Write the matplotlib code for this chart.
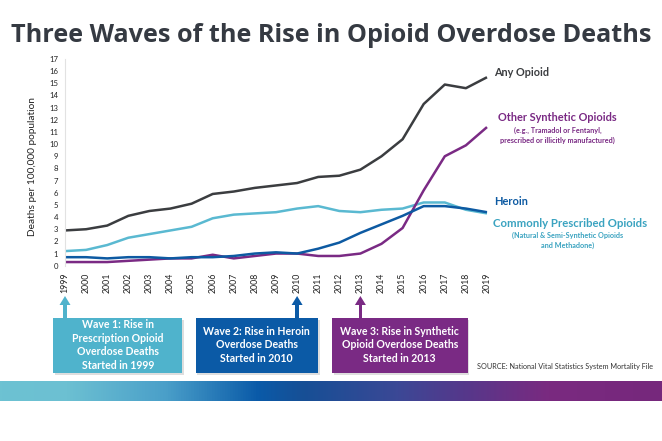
import numpy as np
import matplotlib
matplotlib.use("Agg")
import matplotlib.pyplot as plt
from matplotlib.colors import LinearSegmentedColormap
from matplotlib.patches import Rectangle

years = list(range(1999, 2020))
any_opioid = [2.9, 3.0, 3.3, 4.1, 4.5, 4.7, 5.1, 5.9, 6.1, 6.4, 6.6, 6.8, 7.3, 7.4, 7.9, 9.0, 10.4, 13.3, 14.9, 14.6, 15.5]
prescribed = [1.2, 1.3, 1.7, 2.3, 2.6, 2.9, 3.2, 3.9, 4.2, 4.3, 4.4, 4.7, 4.9, 4.5, 4.4, 4.6, 4.7, 5.2, 5.2, 4.6, 4.3]
heroin = [0.7, 0.7, 0.6, 0.7, 0.7, 0.6, 0.7, 0.7, 0.8, 1.0, 1.1, 1.0, 1.4, 1.9, 2.7, 3.4, 4.1, 4.9, 4.9, 4.7, 4.4]
synthetic = [0.3, 0.3, 0.3, 0.4, 0.5, 0.6, 0.6, 0.9, 0.6, 0.8, 1.0, 1.0, 0.8, 0.8, 1.0, 1.8, 3.1, 6.2, 9.0, 9.9, 11.4]
yticks = list(range(0, 18))
wave_years = [1999, 2010, 2013]
wave_texts = ["Wave 1: Rise in\nPrescription Opioid\nOverdose Deaths\nStarted in 1999",
              "Wave 2: Rise in Heroin\nOverdose Deaths\nStarted in 2010",
              "Wave 3: Rise in Synthetic\nOpioid Overdose Deaths\nStarted in 2013"]

C_ANY = "#3b3d40"
C_PRES = "#5ab9d1"
C_PRES_T = "#3aa3c0"
C_HER = "#0d5aa2"
C_SYN = "#7a2a84"
wave_colors = ["#4fb3cc", "#0b5aa6", "#7a2a84"]

W, H = 662, 441
plt.rcParams['font.family'] = ['Lato', 'DejaVu Sans']

fig = plt.figure(figsize=(W / 100, H / 100), dpi=100)
fig.patch.set_facecolor("white")

def fx(x):
    return x / W

def fy(y):
    return 1 - y / H

# title
fig.text(fx(331), fy(36), "Three Waves of the Rise in Opioid Overdose Deaths",
         ha="center", va="center", fontsize=18.2, fontweight="bold", color="#353a42",
         family=["Open Sans", "DejaVu Sans"])

# main axes
x0, x1 = 65, 487
y0, y1 = 265.7, 59
ax = fig.add_axes([fx(x0), fy(y0), fx(x1 - x0), (y0 - y1) / H])
ax.set_xlim(1999, 2019)
ax.set_ylim(0, 17)
for s in ["top", "right", "bottom"]:
    ax.spines[s].set_visible(False)
ax.spines["left"].set_color("#e2e2e2")
ax.spines["left"].set_linewidth(0.8)
ax.set_yticks(yticks)
ax.set_yticklabels([str(t) for t in yticks], fontsize=5.6, color="#222222")
ax.set_xticks(years)
ax.set_xticklabels([str(y) for y in years], rotation=90, fontsize=6.3, color="#222222")
ax.tick_params(length=0, pad=5)

lw = 1.8
ax.plot(years, prescribed, color=C_PRES, lw=lw, clip_on=False, solid_capstyle="butt")
ax.plot(years, synthetic, color=C_SYN, lw=lw, clip_on=False, solid_capstyle="butt")
ax.plot(years, heroin, color=C_HER, lw=lw, clip_on=False, solid_capstyle="butt")
ax.plot(years, any_opioid, color=C_ANY, lw=lw, clip_on=False, solid_capstyle="butt")

fig.text(fx(33), fy(167), "Deaths per 100,000 population", rotation=90,
         ha="center", va="center", fontsize=7.3, color="#222222")

# series labels
fig.text(fx(494), fy(73), "Any Opioid", ha="left", va="center", fontsize=7.8,
         fontweight="bold", color=C_ANY)
fig.text(fx(557), fy(117.5), "Other Synthetic Opioids", ha="center", va="center", fontsize=7.9,
         fontweight="bold", color=C_SYN)
fig.text(fx(557.5), fy(130), "(e.g., Tramadol or Fentanyl,", ha="center", va="center", fontsize=5.2,
         fontweight="bold", color=C_SYN)
fig.text(fx(557.5), fy(140), "prescribed or illicitly manufactured)", ha="center", va="center",
         fontsize=5.2, fontweight="bold", color=C_SYN)
fig.text(fx(494), fy(201), "Heroin", ha="left", va="center", fontsize=7.9,
         fontweight="bold", color=C_HER)
fig.text(fx(493), fy(223.5), "Commonly Prescribed Opioids", ha="left", va="center", fontsize=8.2,
         fontweight="bold", color=C_PRES_T)
fig.text(fx(568), fy(235.5), "(Natural & Semi-Synthetic Opioids", ha="center", va="center",
         fontsize=5.2, fontweight="bold", color=C_PRES_T)
fig.text(fx(568), fy(245), "and Methadone)", ha="center", va="center",
         fontsize=5.2, fontweight="bold", color=C_PRES_T)

# wave boxes with arrows
box_x = [(53.5, 182.5), (195.5, 318), (332, 467.5)]
by0, by1 = 318, 373
for (bx0, bx1), yr, txt, col in zip(box_x, wave_years, wave_texts, wave_colors):
    fig.patches.append(Rectangle((fx(bx0 + 1.5), fy(by1 + 2)), fx(bx1 - bx0), (by1 - by0) / H,
                                 transform=fig.transFigure, facecolor="#c8c8c8",
                                 edgecolor="none", alpha=0.6, zorder=1))
    fig.patches.append(Rectangle((fx(bx0), fy(by1)), fx(bx1 - bx0), (by1 - by0) / H,
                                 transform=fig.transFigure, facecolor=col,
                                 edgecolor="none", zorder=2))
    ax_px = ax.transData.transform((yr, 0))[0] / fig.bbox.width * W
    fig.text(fx((bx0 + bx1) / 2), fy((by0 + by1) / 2 - 0.5), txt, ha="center", va="center",
             fontsize=7.6, fontweight="bold", color="white", linespacing=1.3, zorder=3)
    fig.patches.append(Rectangle((fx(ax_px - 1.6), fy(by0)), fx(3.2), 14 / H,
                                 transform=fig.transFigure, facecolor=col,
                                 edgecolor="none", zorder=2))
    fig.patches.append(plt.Polygon([(fx(ax_px - 5.5), fy(305)), (fx(ax_px + 5.5), fy(305)),
                                    (fx(ax_px), fy(296))], closed=True,
                                   transform=fig.transFigure, facecolor=col,
                                   edgecolor="none", zorder=2))

fig.text(fx(477), fy(366), "SOURCE: National Vital Statistics System Mortality File",
         ha="left", va="center", fontsize=5.25, color="#333333")

# gradient bar
cmap = LinearSegmentedColormap.from_list("wave", [
    (0.0, "#6dc2d2"), (0.1, "#6cc0d2"), (0.25, "#4a9fc9"), (0.39, "#0a5aa8"),
    (0.46, "#174f95"), (0.6, "#3b4896"), (0.7, "#55388b"), (0.83, "#7a2a80"),
    (1.0, "#76287c")])
gax = fig.add_axes([0, fy(401), 1, 20 / H])
gax.imshow(np.linspace(0, 1, 512)[None, :], aspect="auto", cmap=cmap,
           extent=(0, 1, 0, 1))
gax.set_axis_off()

fig.savefig("out.png", dpi=100, facecolor="white")
